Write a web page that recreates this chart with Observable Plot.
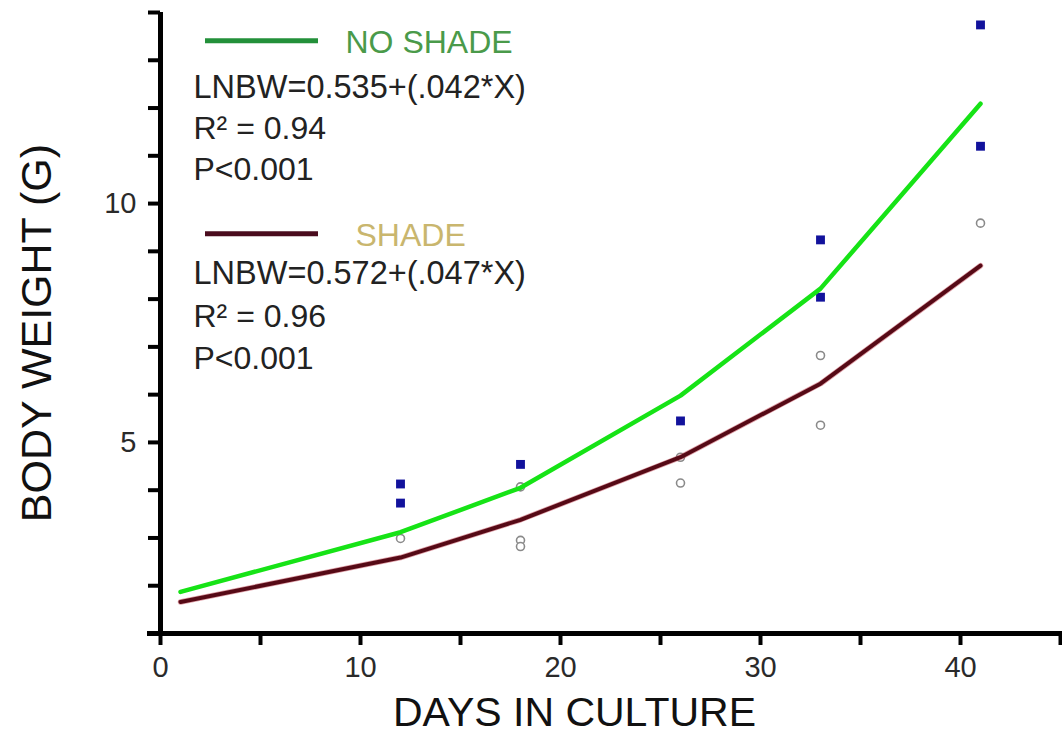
<!DOCTYPE html>
<html><head><meta charset="utf-8">
<script src="https://cdn.jsdelivr.net/npm/d3@7"></script>
<script src="https://cdn.jsdelivr.net/npm/@observablehq/plot@0.6"></script>
<style>body{margin:0;background:#fff}</style>
</head><body><div id="chart"></div>
<script>
// Regression curves (fitted values at sampling days)
const days = [1, 12, 18, 26, 33, 41];
const noShadeFit = [1.87, 3.12, 4.05, 5.98, 8.22, 12.09];
const shadeFit = [1.66, 2.59, 3.38, 4.69, 6.23, 8.70];
// Observations
const noShadeDays = [12, 12, 18, 26, 33, 33, 41, 41];
const noShadeWeights = [4.13, 3.73, 4.54, 5.45, 9.24, 8.04, 13.74, 11.20];
const shadeDays = [12, 18, 18, 18, 26, 26, 33, 33, 41];
const shadeWeights = [2.99, 4.07, 2.95, 2.82, 4.69, 4.15, 6.82, 5.36, 9.59];
// Ticks
const xTicks = [0, 5, 10, 15, 20, 25, 30, 35, 40, 45];
const xTickLabels = [0, 10, 20, 30, 40];
const yTicks = [1, 2, 3, 4, 5, 6, 7, 8, 9, 10, 11, 12, 13, 14];
const yTickLabels = [5, 10];
// Texts
const seriesNames = ["NO SHADE", "SHADE"];
const equations = ["LNBW=0.535+(.042*X)", "LNBW=0.572+(.047*X)"];
const rSquared = ["R\u00B2 = 0.94", "R\u00B2 = 0.96"];
const pValues = ["P<0.001", "P<0.001"];
const xTitle = "DAYS IN CULTURE";
const yTitle = "BODY WEIGHT (G)";

const noShadeLine = days.map((d, i) => ({day: d, w: noShadeFit[i]}));
const shadeLine = days.map((d, i) => ({day: d, w: shadeFit[i]}));
const noShadeObs = noShadeDays.map((d, i) => ({day: d, w: noShadeWeights[i]}));
const shadeObs = shadeDays.map((d, i) => ({day: d, w: shadeWeights[i]}));

const font = "'Liberation Sans', Arial, Helvetica, sans-serif";
const txt = (s, dx, dy, fill, size = 32) =>
  Plot.text([s], {text: d => d, frameAnchor: "top-left", dx, dy, textAnchor: "start",
    lineAnchor: "bottom", fontSize: size, fill});

const chart = Plot.plot({
  width: 1062, height: 734,
  marginLeft: 160, marginRight: 2, marginTop: 12, marginBottom: 101,
  x: {domain: [0, 45], axis: null},
  y: {domain: [1, 14], axis: null},
  style: {fontFamily: font, background: "#fff", overflow: "visible"},
  marks: [
    // axes
    Plot.ruleY([1], {x1: -0.65, x2: 45.1, stroke: "#000", strokeWidth: 5}),
    Plot.ruleX([0], {y1: 1, y2: 14, stroke: "#000", strokeWidth: 5}),
    Plot.axisX({ticks: xTicks, tickSize: 12, tickPadding: 11, strokeWidth: 4,
      tickFormat: d => xTickLabels.includes(d) ? String(d) : "", fontSize: 29,
      stroke: "#000", fill: "#2a2a2a", label: null}),
    Plot.axisY({ticks: yTicks, tickSize: 12, tickPadding: 12, strokeWidth: 4,
      tickFormat: d => yTickLabels.includes(d) ? String(d) : "", fontSize: 29,
      stroke: "#000", fill: "#2a2a2a", label: null}),
    // observations
    Plot.dot(shadeObs, {x: "day", y: "w", r: 4, stroke: "#8a8a8a", strokeWidth: 1.6, fill: "#fff"}),
    Plot.dot(noShadeObs, {x: "day", y: "w", symbol: "square", r: 5, fill: "#12129c", stroke: "none"}),
    // fitted curves
    Plot.line(noShadeLine, {x: "day", y: "w", stroke: "#16e316", strokeWidth: 4.5}),
    Plot.line(shadeLine, {x: "day", y: "w", stroke: "#c04050", strokeWidth: 5.5, strokeOpacity: 0.5}),
    Plot.line(shadeLine, {x: "day", y: "w", stroke: "#560a16", strokeWidth: 4}),
    // legend / annotations
    Plot.ruleY([13.41], {x1: 2.25, x2: 7.9, stroke: "#23903a", strokeWidth: 5}),
    Plot.ruleY([9.37], {x1: 2.25, x2: 7.9, stroke: "#4a0c1e", strokeWidth: 5}),
    txt(seriesNames[0], 185, 40, "#4a9a4a"),
    txt(equations[0], 33, 85, "#222", 32.5),
    txt(rSquared[0], 33, 126, "#222"),
    txt(pValues[0], 33, 167, "#222"),
    txt(seriesNames[1], 195, 233, "#c9b66e"),
    txt(equations[1], 33, 271, "#222", 32.5),
    txt(rSquared[1], 33, 314, "#222"),
    txt(pValues[1], 33, 356, "#222"),
    // axis titles
    Plot.text([xTitle], {text: d => d, frameAnchor: "bottom", dx: -36, dy: 92,
      lineAnchor: "bottom", fontSize: 41, fill: "#111"}),
    Plot.text([yTitle], {text: d => d, frameAnchor: "left", dx: -123, dy: 10, rotate: -90,
      lineAnchor: "middle", textAnchor: "middle", fontSize: 43, fill: "#111"})
  ]
});
document.getElementById("chart").appendChild(chart);
</script>
</body></html>
